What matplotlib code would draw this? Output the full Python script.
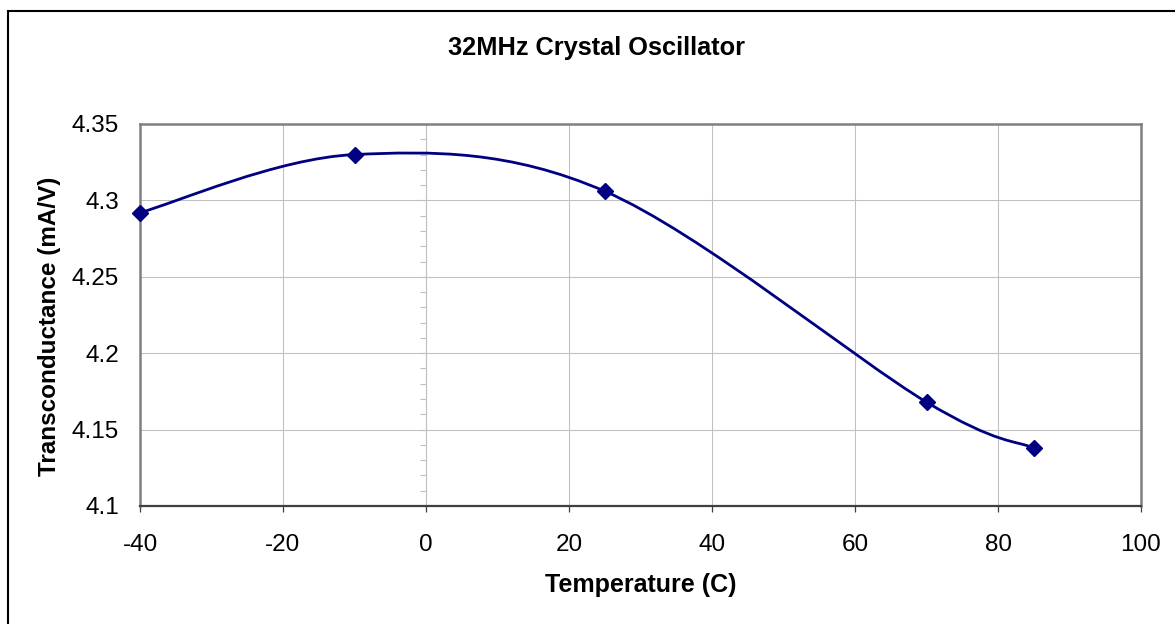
import matplotlib
matplotlib.use("Agg")
import matplotlib.pyplot as plt
from matplotlib.path import Path
from matplotlib.patches import PathPatch, Rectangle
from matplotlib.ticker import MultipleLocator

plt.rcParams['font.family'] = ['Liberation Sans', 'DejaVu Sans']
plt.rcParams['axes.unicode_minus'] = False

# data
temps = [-40, -10, 25, 70, 85]
gm = [4.292, 4.330, 4.306, 4.168, 4.138]

x_ticks = [-40, -20, 0, 20, 40, 60, 80, 100]
y_ticks = [4.1, 4.15, 4.2, 4.25, 4.3, 4.35]
y_labels = ['4.1', '4.15', '4.2', '4.25', '4.3', '4.35']

title = '32MHz Crystal Oscillator'
x_title = 'Temperature (C)'
y_title = 'Transconductance (mA/V)'

navy = '#000080'
grid_c = '#c0c0c0'

fig = plt.figure(figsize=(11.75, 6.24), dpi=100)
fig.set_facecolor('white')
W, H = 1175, 624

ax = fig.add_axes([140 / W, 1 - 506 / H, 1001 / W, 382 / H])
ax.set_xlim(-40, 100)
ax.set_ylim(4.1, 4.35)

# secondary axis only to draw the vertical axis line at x = 0 with its ticks
ax2 = ax.twinx()
ax2.set_ylim(4.1, 4.35)
for s in ['left', 'top', 'bottom']:
    ax2.spines[s].set_visible(False)
ax2.spines['right'].set_position(('data', 0))
ax2.spines['right'].set_color(grid_c)
ax2.spines['right'].set_linewidth(0.8)
ax2.yaxis.set_major_locator(MultipleLocator(0.05))
ax2.yaxis.set_minor_locator(MultipleLocator(0.01))
ax2.tick_params(axis='y', which='both', direction='in', length=4.5, width=0.8,
                color=grid_c, labelright=False)
ax.set_zorder(ax2.get_zorder() + 1)
ax.patch.set_visible(False)

# grid
ax.set_xticks(x_ticks)
ax.set_yticks(y_ticks)
ax.set_yticklabels(y_labels)
ax.grid(True, color=grid_c, lw=0.75)
ax.set_axisbelow(True)

# frame
for s in ['left', 'top', 'right']:
    ax.spines[s].set_color('#808080')
    ax.spines[s].set_linewidth(1.8)
ax.spines['bottom'].set_color('#404040')
ax.spines['bottom'].set_linewidth(1.6)

ax.tick_params(axis='x', direction='out', length=4.5, width=0.9, color='#404040',
               labelsize=17.5, pad=16)
ax.tick_params(axis='y', length=0, labelsize=17.5, pad=15)

# Excel-style smoothed line (cubic Bezier through the points)
pts = list(zip(temps, gm))
n = len(pts)
verts = [pts[0]]
codes = [Path.MOVETO]
for i in range(n - 1):
    p0 = pts[i - 1] if i > 0 else pts[i]
    p1 = pts[i]
    p2 = pts[i + 1]
    p3 = pts[i + 2] if i + 2 < n else pts[i + 1]
    c1 = (p1[0] + (p2[0] - p0[0]) / 6, p1[1] + (p2[1] - p0[1]) / 6)
    c2 = (p2[0] - (p3[0] - p1[0]) / 6, p2[1] - (p3[1] - p1[1]) / 6)
    verts += [c1, c2, p2]
    codes += [Path.CURVE4] * 3
ax.add_patch(PathPatch(Path(verts, codes), fill=False, ec=navy, lw=2.0,
                       clip_on=False, zorder=3))
ax.plot(temps, gm, ls='none', marker='D', ms=8.5, color=navy, zorder=4,
        clip_on=False)

# labels
ax.set_xlabel(x_title, fontsize=18, fontweight='bold', va='baseline')
ax.xaxis.set_label_coords(0.5, (506 - 592) / 382)
ax.set_ylabel(y_title, fontsize=17.5, fontweight='bold', va='baseline')
ax.yaxis.set_label_coords((56.5 - 140) / 1001, (506 - 326) / 382)

fig.text(597 / W, 1 - 55 / H, title, fontsize=18.3, fontweight='bold',
         ha='center', va='baseline')

# outer chart border (runs off the right and bottom edges)
fig.add_artist(Rectangle((8 / W, -0.05), 1.1, 1.05 - 10.5 / H,
                         transform=fig.transFigure, fill=False,
                         ec='black', lw=1.5))

plt.savefig('out.png', dpi=100)
